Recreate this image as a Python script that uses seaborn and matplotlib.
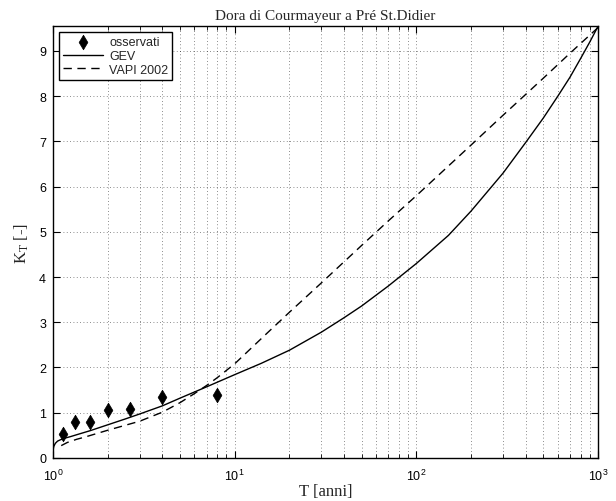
import numpy as np
import pandas as pd
import matplotlib
matplotlib.use("Agg")
import matplotlib.pyplot as plt
import seaborn as sns
from matplotlib.ticker import LogLocator

# Observed points
obs_T = [1.14, 1.33, 1.6, 2.0, 2.67, 4.0, 8.0]
obs_K = [0.52, 0.79, 0.80, 1.05, 1.09, 1.34, 1.39]

# GEV curve
gev_T = [1.0, 1.01, 1.03, 1.06, 1.1, 1.15, 1.25, 1.4, 1.6, 2.0, 2.5, 3.0, 4.0, 5.0, 7.0,
         10.0, 14.0, 20.0, 30.0, 40.0, 50.0, 70.0, 100.0, 150.0, 200.0, 300.0,
         400.0, 500.0, 600.0, 700.0, 800.0, 900.0, 1000.0]
gev_K = [0.16, 0.25, 0.32, 0.37, 0.40, 0.43, 0.47, 0.53, 0.60, 0.73, 0.86, 0.97, 1.15, 1.32, 1.57,
         1.84, 2.09, 2.38, 2.78, 3.10, 3.36, 3.80, 4.30, 4.92, 5.46, 6.30,
         6.98, 7.52, 8.00, 8.42, 8.83, 9.20, 9.55]

# VAPI 2002 curve
vapi_T = [1.11, 1.2, 1.35, 1.5, 1.75, 2.0, 2.5, 3.0, 4.0, 5.0, 6.0, 7.0, 8.0, 10.0,
          15.0, 20.0, 30.0, 50.0, 70.0, 100.0, 200.0, 300.0, 500.0, 700.0, 1000.0]
vapi_K = [0.27, 0.34, 0.41, 0.46, 0.54, 0.61, 0.72, 0.81, 1.01, 1.22, 1.42, 1.60, 1.77, 2.08,
          2.75, 3.22, 3.87, 4.70, 5.24, 5.80, 6.92, 7.58, 8.40, 8.95, 9.52]

title = "Dora di Courmayeur a Pré St.Didier"
xlabel = "T [anni]"
ylabel = "K$_\\mathregular{T}$ [-]"

sns.set_style("ticks")
plt.rcParams["font.family"] = ["Liberation Sans", "DejaVu Sans"]
plt.rcParams["mathtext.default"] = "regular"

fig = plt.figure(figsize=(6.16, 5.02), dpi=100)
ax = fig.add_axes([0.086, 0.086, 0.885, 0.860])

df_obs = pd.DataFrame({"T": obs_T, "K": obs_K})
df_gev = pd.DataFrame({"T": gev_T, "K": gev_K})
df_vapi = pd.DataFrame({"T": vapi_T, "K": vapi_K})

sns.scatterplot(data=df_obs, x="T", y="K", ax=ax, marker="d", s=55, color="black",
                edgecolor="black", linewidth=0.5, label="osservati", zorder=5)
sns.lineplot(data=df_gev, x="T", y="K", ax=ax, color="black", linewidth=1.0,
             estimator=None, sort=False, label="GEV")
sns.lineplot(data=df_vapi, x="T", y="K", ax=ax, color="black", linewidth=1.0,
             estimator=None, sort=False, label="VAPI 2002", dashes=False)
ax.lines[-1].set_linestyle((0, (6, 4)))

ax.set_xscale("log")
ax.set_xlim(1, 1000)
ax.set_ylim(0, 9.55)
ax.set_yticks(range(0, 10))
ax.xaxis.set_major_locator(LogLocator(base=10, numticks=10))
ax.xaxis.set_minor_locator(LogLocator(base=10, subs=np.arange(2, 10), numticks=20))

ax.grid(True, which="major", axis="both", linestyle=(0, (1, 3)), color="black", linewidth=0.6, alpha=0.6)
ax.grid(True, which="minor", axis="x", linestyle=(0, (1, 3)), color="black", linewidth=0.6, alpha=0.6)

ax.tick_params(which="both", direction="in", top=True, right=True, labelsize=9, colors="black")
ax.tick_params(which="major", length=5)
ax.tick_params(which="minor", length=3)
ax.tick_params(axis="x", which="major", pad=7)
ax.tick_params(axis="y", which="major", pad=5)
for sp in ax.spines.values():
    sp.set_visible(True)
    sp.set_color("black")
    sp.set_linewidth(1.0)

ax.set_title(title, family="Liberation Serif", fontsize=11, pad=5)
ax.set_xlabel(xlabel, family="Liberation Serif", fontsize=12, labelpad=0)
ax.set_ylabel(ylabel, family="Liberation Serif", fontsize=12, labelpad=6)

leg = ax.legend(loc="upper left", fontsize=9, frameon=True, fancybox=False,
                edgecolor="black", framealpha=1, borderpad=0.3, labelspacing=0.15,
                handlelength=3.2, handletextpad=0.5, borderaxespad=0.5)
leg.get_frame().set_linewidth(1.0)

fig.savefig("out.png", dpi=100)
